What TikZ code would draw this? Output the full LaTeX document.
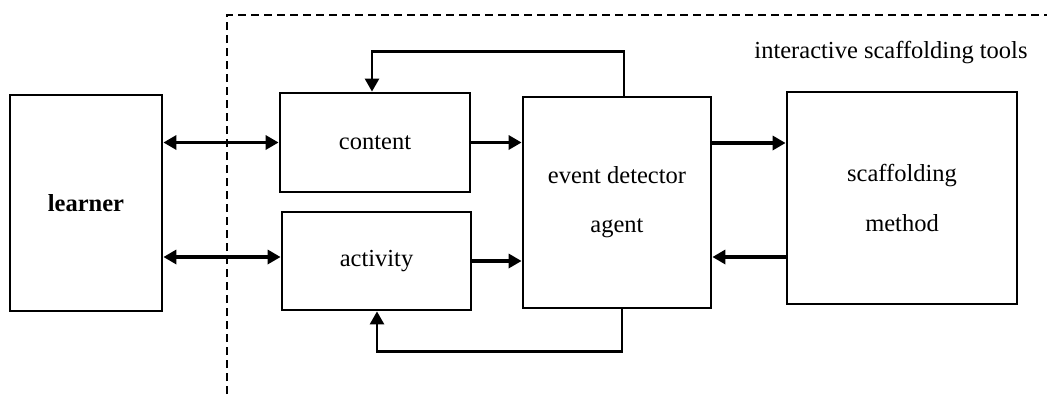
\documentclass[tikz,border=0pt]{standalone}
\usepackage{fontspec}
\setmainfont{Liberation Serif}
\usetikzlibrary{arrows.meta,calc}
\begin{document}
\begin{tikzpicture}[x=1pt,y=-1pt,
  box/.style={draw,line width=2.8pt,inner sep=0pt,align=center,font=\fontsize{24.5}{49}\selectfont},
  arr/.style={line width=3.6pt,-{Triangle[length=13pt,width=14pt]}},
  darr/.style={line width=3.6pt,{Triangle[length=13pt,width=14pt]}-{Triangle[length=13pt,width=14pt]}},
  fb/.style={line width=2.6pt,-{Triangle[length=13pt,width=14pt]}},
  lbl/.style={font=\fontsize{24.5}{49}\selectfont,inner sep=0pt}]
\useasboundingbox (0,0) rectangle (1047,394);
\draw[dashed,line width=1.4pt,dash pattern=on 8pt off 5pt] (227,394) -- (227,15) -- (1047,15);
\node[box,minimum width=152pt,minimum height=216pt] (learner) at (86,203) {\textbf{learner}};
\node[box,minimum width=190pt,minimum height=99pt] (content) at (375,142.5) {content};
\node[box,minimum width=189pt,minimum height=98pt] (activity) at (376.5,261) {\raisebox{-4pt}{activity}};
\node[box,minimum width=188pt,minimum height=211pt] (event) at (617,202.5) {\raisebox{-4pt}{event detector}\\\raisebox{-4pt}{agent}};
\node[box,minimum width=230pt,minimum height=212pt] (scaff) at (902,198) {scaffolding\\\raisebox{-1pt}{method}};
\node[lbl] (tools) at (891,53) {interactive scaffolding tools};
\draw[darr] (content.west -| learner.east) -- (content.west);
\draw[darr] ([yshift=4pt]activity.west -| learner.east) -- ([yshift=4pt]activity.west);
\draw[arr] (content.east) -- (content.east -| event.west);
\draw[arr] (activity.east) -- (activity.east -| event.west);
\draw[arr] ([yshift=-0.5pt]content.east -| event.east) -- ([yshift=-0.5pt]content.east -| scaff.west);
\draw[arr] ([yshift=4pt]activity.east -| scaff.west) -- ([yshift=4pt]activity.east -| event.east);
\draw[fb] ([xshift=7pt]event.north) -- ++(0,-44) -| ([xshift=-3pt]content.north);
\draw[fb] ([xshift=5pt]event.south) -- ++(0,42) -| ([xshift=0.5pt]activity.south);
\end{tikzpicture}
\end{document}
